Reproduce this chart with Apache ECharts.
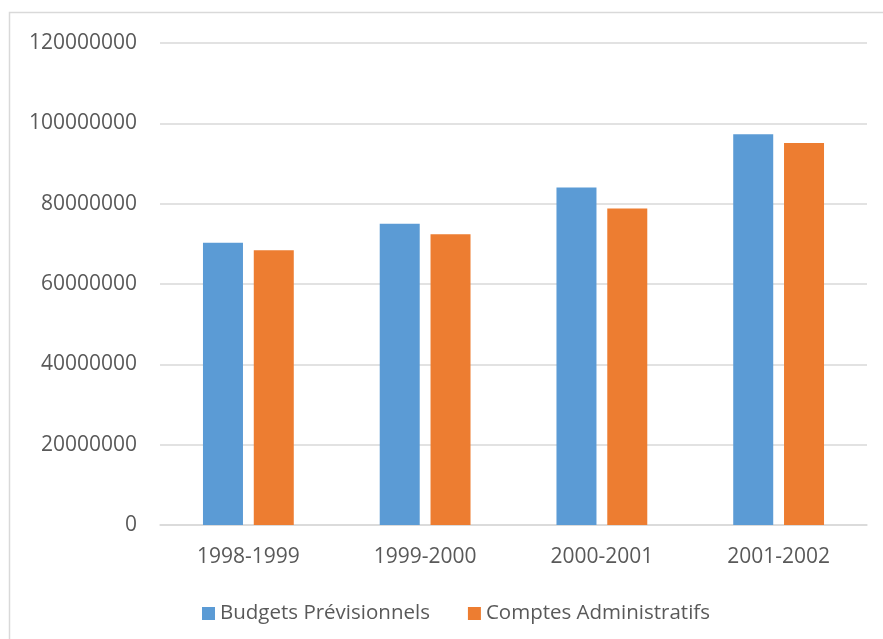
<!DOCTYPE html>
<html>
<head>
<meta charset="utf-8">
<script src="https://cdn.jsdelivr.net/npm/echarts@6/dist/echarts.min.js"></script>
<style>
  html, body { margin: 0; padding: 0; background: #ffffff; }
  #chart { width: 883px; height: 639px; }
</style>
</head>
<body>
<div id="chart"></div>
<script>
// Budget years
const categories = ['1998-1999', '1999-2000', '2000-2001', '2001-2002'];
// Forecast budgets vs. administrative accounts
const budgetsPrevisionnels = [70300000, 75000000, 84000000, 97300000];
const comptesAdministratifs = [68400000, 72400000, 78800000, 95100000];
const seriesNames = ['Budgets Prévisionnels', 'Comptes Administratifs'];

const textColor = '#595959';
const gridColor = '#d9d9d9';
const font = '"Open Sans", "Liberation Sans", sans-serif';

const chart = echarts.init(document.getElementById('chart'), null, { renderer: 'canvas' });
chart.setOption({
  backgroundColor: '#ffffff',
  animation: false,
  graphic: [{
    type: 'rect',
    shape: { x: 9.5, y: 12.5, width: 900, height: 700 },
    style: { fill: 'none', stroke: gridColor, lineWidth: 1.5 },
    silent: true
  }],
  grid: { left: 160, right: 16, top: 43, bottom: 114 },
  legend: {
    data: seriesNames,
    left: 197,
    top: 598,
    icon: 'rect',
    itemWidth: 13,
    itemHeight: 13,
    itemGap: 38,
    textStyle: { color: textColor, fontSize: 20.5, fontFamily: font }
  },
  xAxis: {
    type: 'category',
    data: categories,
    axisLine: { lineStyle: { color: gridColor, width: 1.5 } },
    axisTick: { show: false },
    axisLabel: { color: textColor, fontSize: 21, fontFamily: font, margin: 22 }
  },
  yAxis: {
    type: 'value',
    min: 0,
    max: 120000000,
    interval: 20000000,
    axisLine: { show: false },
    axisTick: { show: false },
    splitLine: { lineStyle: { color: gridColor, width: 1.5 } },
    axisLabel: {
      color: textColor, fontSize: 21, fontFamily: font, margin: 23,
      formatter: (v) => String(v)
    }
  },
  series: [
    {
      name: seriesNames[0],
      type: 'bar',
      data: budgetsPrevisionnels,
      barWidth: 40,
      barGap: '27%',
      itemStyle: { color: '#5b9bd5' }
    },
    {
      name: seriesNames[1],
      type: 'bar',
      data: comptesAdministratifs,
      barWidth: 40,
      itemStyle: { color: '#ed7d31' }
    }
  ]
});
</script>
</body>
</html>
